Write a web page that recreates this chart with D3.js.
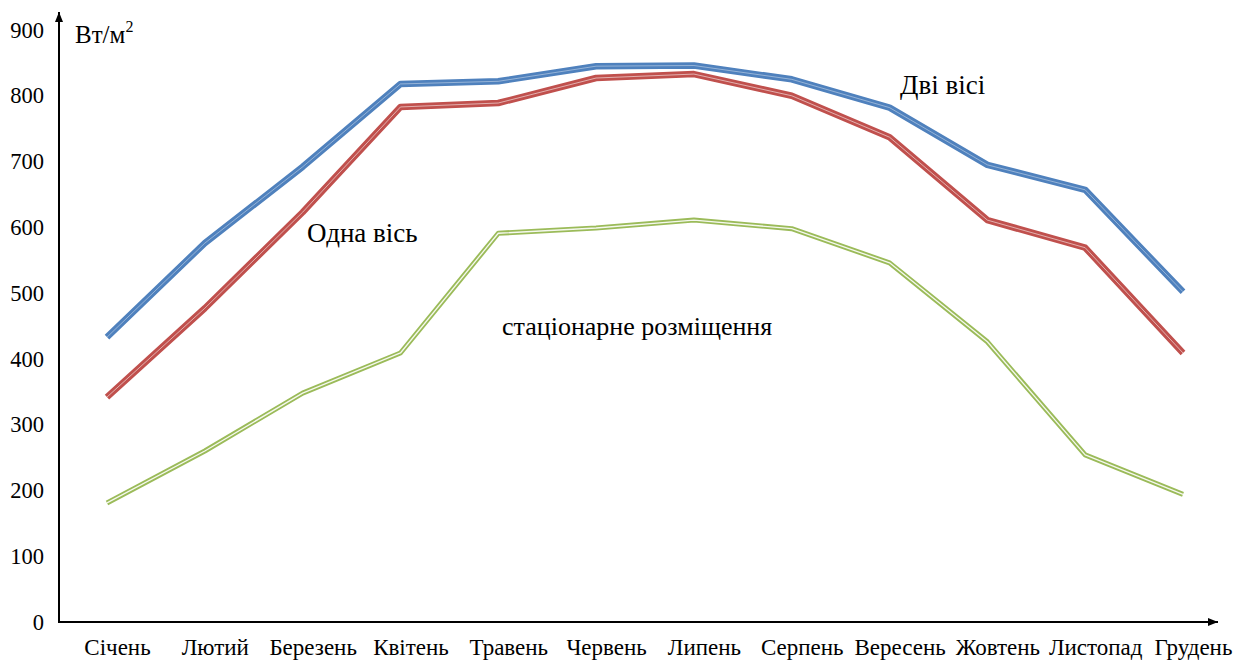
<!DOCTYPE html>
<html>
<head>
<meta charset="utf-8">
<script src="https://cdn.jsdelivr.net/npm/d3@7"></script>
<style>
  html, body { margin: 0; padding: 0; background: #fff; }
  svg { display: block; }
</style>
</head>
<body>
<svg id="chart" width="1252" height="661"></svg>
<script>
// Monthly solar irradiance, W/m², for three panel mounting types
const months = ["Січень", "Лютий", "Березень", "Квітень", "Травень", "Червень",
                "Липень", "Серпень", "Вересень", "Жовтень", "Листопад", "Грудень"];
const twoAxes = [433, 576, 692, 818, 822, 845, 846, 825, 782, 695, 657, 502];
const oneAxis = [342, 477, 623, 783, 789, 827, 833, 800, 737, 611, 569, 409];
const fixedMount = [181, 260, 348, 409, 591, 599, 611, 598, 546, 426, 254, 194];
const yTicks = [0, 100, 200, 300, 400, 500, 600, 700, 800, 900];

const FONT = '"Liberation Serif", "Times New Roman", serif';
const svg = d3.select("#chart");
const x0 = 59, y0 = 622;

const x = d3.scalePoint().domain(months).range([107, 1183]);
const y = d3.scaleLinear().domain([0, 900]).range([y0, 30]);

// arrowheads for the axes
const defs = svg.append("defs");
defs.append("marker")
  .attr("id", "arrow")
  .attr("viewBox", "0 0 10 10")
  .attr("refX", 10).attr("refY", 5)
  .attr("markerWidth", 10).attr("markerHeight", 10)
  .attr("markerUnits", "userSpaceOnUse")
  .attr("orient", "auto")
  .append("path").attr("d", "M0,1 L10,5 L0,9 Z").attr("fill", "#000");

// Y axis: labels only, line drawn separately with an arrow
const yAxis = svg.append("g")
  .attr("transform", `translate(${x0},0)`)
  .call(d3.axisLeft(y).tickValues(yTicks).tickSize(0).tickPadding(15).tickFormat(d3.format("d")));
yAxis.select(".domain").remove();
yAxis.selectAll("text")
  .style("font-family", FONT).style("font-size", "22.5px").style("fill", "#000");

// X axis labels, sitting a little right of each month point
const xAxis = svg.append("g")
  .attr("transform", `translate(0,${y0})`)
  .call(d3.axisBottom(x).tickSize(0).tickPadding(17));
xAxis.select(".domain").remove();
xAxis.selectAll("text").attr("dx", 10)
  .style("font-family", FONT).style("font-size", "23px").style("fill", "#000");

svg.append("line")
  .attr("x1", x0).attr("y1", y0 + 1).attr("x2", x0).attr("y2", 12)
  .attr("stroke", "#000").attr("stroke-width", 2).attr("marker-end", "url(#arrow)");
svg.append("line")
  .attr("x1", x0 - 1).attr("y1", y0).attr("x2", 1218).attr("y2", y0)
  .attr("stroke", "#000").attr("stroke-width", 2).attr("marker-end", "url(#arrow)");

// Series drawn as a coloured band with a thin light core line
const line = d3.line().x((d, i) => x(months[i])).y(d => y(d));
const series = [
  { values: fixedMount, color: "#9bbb59", width: 5, coreW: 1.3, core: 0.9 },
  { values: oneAxis, color: "#c0504d", width: 6.5, coreW: 1, core: 0.55 },
  { values: twoAxes, color: "#4f81bd", width: 6.5, coreW: 1, core: 0.4 }
];
series.forEach(s => {
  svg.append("path").datum(s.values)
    .attr("d", line).attr("fill", "none")
    .attr("stroke", s.color).attr("stroke-width", s.width)
    .attr("stroke-linejoin", "round");
  svg.append("path").datum(s.values)
    .attr("d", line).attr("fill", "none")
    .attr("stroke", "#fff").attr("stroke-opacity", s.core).attr("stroke-width", s.coreW)
    .attr("stroke-linejoin", "round");
});

function label(xp, yp, size, txt) {
  return svg.append("text").attr("x", xp).attr("y", yp)
    .style("font-family", FONT).style("font-size", size + "px").style("fill", "#000")
    .text(txt);
}

// unit label with superscript
const unit = label(75, 43, 25, null);
unit.append("tspan").text("Вт/м");
unit.append("tspan").attr("dy", -11).style("font-size", "16px").text("2");

// series captions
label(900, 94, 27, "Дві вісі");
label(307, 242, 27, "Одна вісь");
label(502, 335, 26, "стаціонарне розміщення");
</script>
</body>
</html>
